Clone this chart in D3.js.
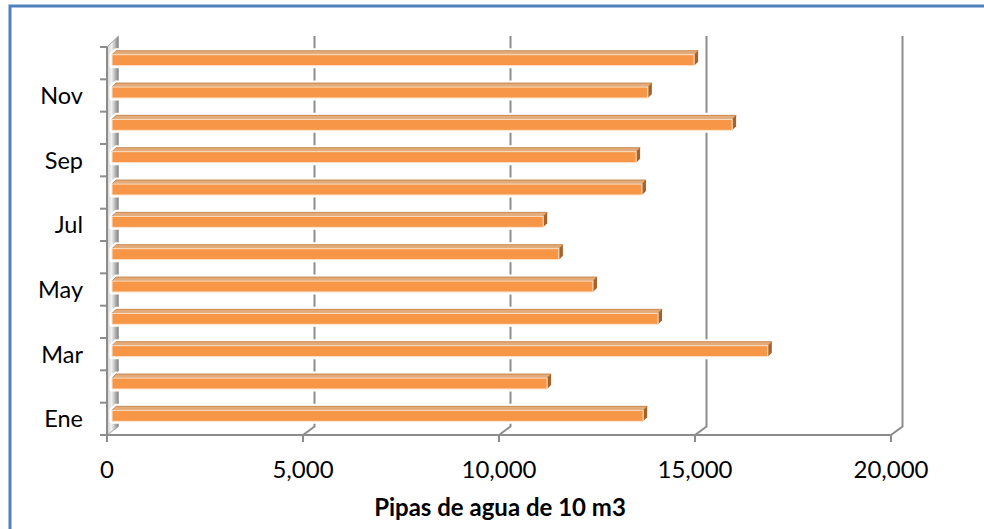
<!DOCTYPE html>
<html>
<head>
<meta charset="utf-8">
<script src="https://cdn.jsdelivr.net/npm/d3@7"></script>
<style>
  html, body { margin: 0; padding: 0; background: #fff; }
  svg { display: block; }
  text { font-family: Lato, "Open Sans", sans-serif; fill: #000; }
</style>
</head>
<body>
<svg id="chart" width="984" height="529"></svg>
<script>
// ---- data ----
const months = ["Ene", "Feb", "Mar", "Abr", "May", "Jun", "Jul", "Ago", "Sep", "Oct", "Nov", "Dic"];
const values = [13550, 11100, 16730, 13930, 12270, 11400, 11000, 13520, 13370, 15820, 13670, 14850];
const shownLabels = ["Ene", "Mar", "May", "Jul", "Sep", "Nov"];
const xTicks = [0, 5000, 10000, 15000, 20000];
const xTitle = "Pipas de agua de 10 m3";

// ---- layout ----
const svg = d3.select("#chart");
const front = { left: 107, right: 891, top: 47, bottom: 435 };
const depth = { dx: 11.5, dy: -8.5 };
const barDepth = { dx: 4, dy: -4 };
const barShift = 5;           // bar front plane offset from the front axis plane
const faceH = 11;

const xFront = d3.scaleLinear().domain([0, 20000]).range([front.left, front.right]);
const xBar = d3.scaleLinear().domain([0, 20000]).range([front.left + barShift, front.right + barShift]);
const y = d3.scaleBand().domain(months.slice().reverse()).range([front.top, front.bottom]).padding(0);

const gray = "#8c8c8c";

// border (left + top)
svg.append("path")
  .attr("d", "M10,529 L10,6 L984,6")
  .attr("fill", "none").attr("stroke", "#4F81BD").attr("stroke-width", 3);

// back-wall gridlines
const grid = svg.append("g");
xTicks.slice(1).forEach(t => {
  const xf = xFront(t), xb = xf + depth.dx;
  grid.append("path")
    .attr("d", `M${xb},${front.top + depth.dy - 2.5} L${xb},${front.bottom + depth.dy} L${xf},${front.bottom}`)
    .attr("fill", "none").attr("stroke", gray).attr("stroke-width", 2);
});

// left side wall
const defs = svg.append("defs");
const wg = defs.append("linearGradient").attr("id", "wall").attr("x1", 0).attr("x2", 1).attr("y1", 0).attr("y2", 0);
wg.append("stop").attr("offset", "0%").attr("stop-color", "#d0d0d0");
wg.append("stop").attr("offset", "40%").attr("stop-color", "#f2f2f2");
wg.append("stop").attr("offset", "100%").attr("stop-color", "#7f7f7f");
svg.append("path")
  .attr("d", `M${front.left},${front.top} L${front.left + depth.dx},${front.top + depth.dy - 2.5} L${front.left + depth.dx},${front.bottom + depth.dy} L${front.left},${front.bottom} Z`)
  .attr("fill", "url(#wall)").attr("stroke", "#a6a6a6").attr("stroke-width", 1);

// floor front edge
svg.append("line")
  .attr("x1", front.left).attr("x2", front.right)
  .attr("y1", front.bottom).attr("y2", front.bottom)
  .attr("stroke", gray).attr("stroke-width", 2);

// y axis front line and ticks
svg.append("line")
  .attr("x1", front.left).attr("x2", front.left)
  .attr("y1", front.top).attr("y2", front.bottom)
  .attr("stroke", gray).attr("stroke-width", 2);
const yTickPos = months.map(m => y(m)).concat([front.bottom]);
svg.append("g").selectAll("line").data(yTickPos).join("line")
  .attr("x1", front.left - 7).attr("x2", front.left)
  .attr("y1", d => d).attr("y2", d => d)
  .attr("stroke", gray).attr("stroke-width", 2);

// x ticks
svg.append("g").selectAll("line").data(xTicks).join("line")
  .attr("x1", d => xFront(d)).attr("x2", d => xFront(d))
  .attr("y1", front.bottom).attr("y2", front.bottom + 7)
  .attr("stroke", gray).attr("stroke-width", 2);

// bars
const bars = svg.append("g").selectAll("g").data(months.map((m, i) => ({ m, v: values[i] }))).join("g");
bars.each(function(d) {
  const g = d3.select(this);
  const x0 = xBar(0), x1 = xBar(d.v);
  const top = y(d.m) + y.bandwidth() / 2 - 3 - faceH / 2;
  const bdx = barDepth.dx, bdy = barDepth.dy;
  // white halo
  g.append("path")
    .attr("d", `M${x0},${top + faceH} L${x0},${top} L${x0 + bdx},${top + bdy} L${x1 + bdx},${top + bdy} L${x1 + bdx},${top + bdy + faceH} L${x1},${top + faceH} Z`)
    .attr("fill", "#fff").attr("stroke", "#fff").attr("stroke-width", 5).attr("stroke-linejoin", "round");
  // top face
  g.append("path")
    .attr("d", `M${x0},${top} L${x0 + bdx},${top + bdy} L${x1 + bdx},${top + bdy} L${x1},${top} Z`)
    .attr("fill", "#e2ab79").attr("stroke", "#c27a3e").attr("stroke-width", 0.8);
  // end cap
  g.append("path")
    .attr("d", `M${x1},${top} L${x1 + bdx},${top + bdy} L${x1 + bdx},${top + bdy + faceH} L${x1},${top + faceH} Z`)
    .attr("fill", "#a5622a");
  // front face
  g.append("rect")
    .attr("x", x0).attr("y", top).attr("width", x1 - x0).attr("height", faceH)
    .attr("fill", "#F79646").attr("stroke", "#fde5d0").attr("stroke-width", 1);
});

// y labels
svg.append("g").selectAll("text").data(shownLabels).join("text")
  .attr("x", 83).attr("y", d => y(d) + y.bandwidth() / 2)
  .attr("dy", "0.36em")
  .attr("text-anchor", "end").attr("font-size", 23.5)
  .text(d => d);

// x labels
const fmt = d3.format(",");
svg.append("g").selectAll("text").data(xTicks).join("text")
  .attr("x", d => xFront(d)).attr("y", 478)
  .attr("text-anchor", "middle").attr("font-size", 24)
  .text(d => fmt(d));

// x title
svg.append("text")
  .attr("x", 500).attr("y", 516)
  .attr("text-anchor", "middle").attr("font-size", 24).attr("font-weight", "bold")
  .text(xTitle);
</script>
</body>
</html>
